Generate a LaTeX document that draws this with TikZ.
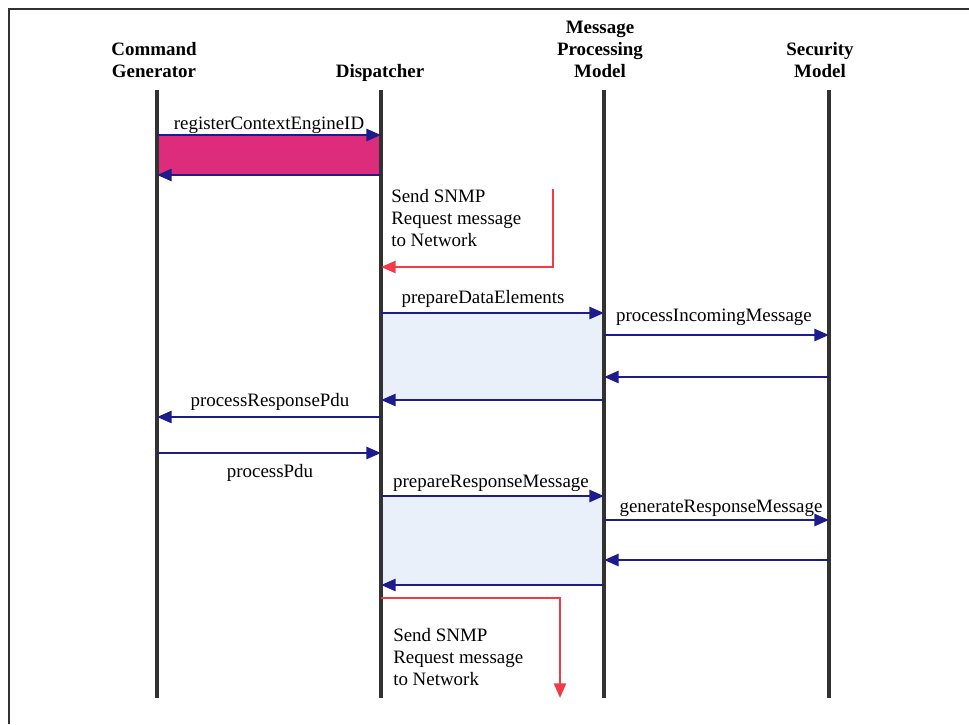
\documentclass[tikz,border=0pt]{standalone}
\usepackage{fontspec}
\setmainfont{Liberation Serif}
\usetikzlibrary{positioning, arrows.meta}
\definecolor{msgblue}{RGB}{28,28,140}
\definecolor{regpink}{RGB}{222,44,124}
\definecolor{boxblue}{RGB}{234,240,250}
\definecolor{netred}{RGB}{240,60,72}
\definecolor{lifegray}{RGB}{50,50,50}

\begin{document}
\begin{tikzpicture}[
    x=0.75pt, y=-0.75pt,
    every node/.style={font=\fontsize{14.2}{16.2}\selectfont, inner sep=0pt},
    head/.style={font=\bfseries\fontsize{14.2}{16.2}\selectfont, align=center, anchor=base},
    lbl/.style={anchor=base},
    note/.style={align=left, anchor=base west},
    lifeline/.style={draw=lifegray, line width=2.3pt},
    msg/.style={draw=msgblue, line width=2pt, -{Triangle[length=11pt,width=9pt]}},
    netmsg/.style={draw=netred, line width=1.8pt, -{Triangle[length=11pt,width=9pt]}}
]
\useasboundingbox (0,0) rectangle (969,724);
\draw[line width=1.5pt, lifegray] (9,724) -- (9,9) -- (969,9);

% lifeline heads
\node[head] (cgname) at (154,77) {Command\\Generator};
\node[head] (dpname) at (380,77) {Dispatcher};
\node[head] (mpname) at (600,77) {Message\\Processing\\Model};
\node[head] (smname) at (820,77) {Security\\Model};

\coordinate (cg) at (157,90);
\coordinate (dp) at (381,90);
\coordinate (mp) at (604,90);
\coordinate (sm) at (829,90);
\coordinate (bottom) at (0,698);

% message rows
\coordinate (r1) at (0,135);
\coordinate (r2) at (0,175);
\coordinate (r3) at (0,267);
\coordinate (r4) at (0,313);
\coordinate (r5) at (0,335);
\coordinate (r6) at (0,377);
\coordinate (r7) at (0,400);
\coordinate (r8) at (0,417);
\coordinate (r9) at (0,453);
\coordinate (r10) at (0,496);
\coordinate (r11) at (0,520);
\coordinate (r12) at (0,560);
\coordinate (r13) at (0,585);
\coordinate (r14) at (0,598);
\coordinate (net1) at (553,189);
\coordinate (net2) at (560,698);

% shaded blocks
\fill[regpink] (cg |- r1) rectangle (dp |- r2);
\fill[boxblue] (dp |- r4) rectangle (mp |- r7);
\fill[boxblue] (dp |- r10) rectangle (mp |- r13);

\draw[lifeline] (cg) -- (cg |- bottom);
\draw[lifeline] (dp) -- (dp |- bottom);
\draw[lifeline] (mp) -- (mp |- bottom);
\draw[lifeline] (sm) -- (sm |- bottom);

% messages
\draw[msg] (cg |- r1) -- (dp |- r1);
\draw[msg] (dp |- r2) -- (cg |- r2);
\draw[msg] (dp |- r4) -- (mp |- r4);
\draw[msg] (mp |- r5) -- (sm |- r5);
\draw[msg] (sm |- r6) -- (mp |- r6);
\draw[msg] (mp |- r7) -- (dp |- r7);
\draw[msg] (dp |- r8) -- (cg |- r8);
\draw[msg] (cg |- r9) -- (dp |- r9);
\draw[msg] (dp |- r10) -- (mp |- r10);
\draw[msg] (mp |- r11) -- (sm |- r11);
\draw[msg] (sm |- r12) -- (mp |- r12);
\draw[msg] (mp |- r13) -- (dp |- r13);
\draw[netmsg] (net1) |- (dp |- r3);
\draw[netmsg] (dp |- r14) -| (net2);

% labels
\node[lbl] (regl) at (269,129) {registerContextEngineID};
\node[lbl] (prepl) at (483,303) {prepareDataElements};
\node[lbl] (incl) at (714,321) {processIncomingMessage};
\node[lbl] (respl) at (270,406) {processResponsePdu};
\node[lbl] (pdul) at (270,477) {processPdu};
\node[lbl] (rmsgl) at (491,487) {prepareResponseMessage};
\node[lbl] (genl) at (721,512) {generateResponseMessage};
\node[note] (sendl) at (391,246) {Send SNMP\\Request message\\to Network};
\node[note] (send2l) at (393,685) {Send SNMP\\Request message\\to Network};
\end{tikzpicture}
\end{document}
